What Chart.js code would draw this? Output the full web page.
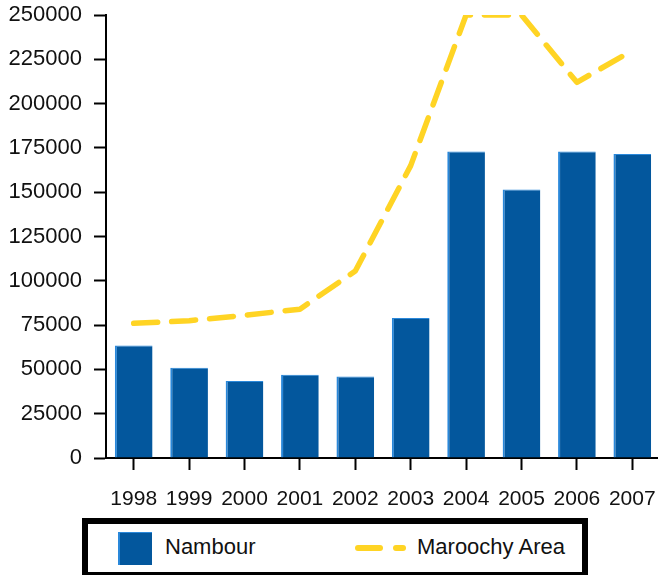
<!DOCTYPE html>
<html>
<head>
<meta charset="utf-8">
<script src="https://cdn.jsdelivr.net/npm/chart.js@4/dist/chart.umd.min.js"></script>
<style>
  html, body { margin: 0; padding: 0; background: #fff; overflow: hidden; width: 658px; height: 575px; }
  #wrap { position: relative; width: 658px; height: 575px; overflow: hidden; }
  canvas { position: absolute; left: 0; top: 0; display: block; }
  .legend { position: absolute; left: 82px; top: 518px; width: 506px; height: 60px; border: 6px solid #000; box-sizing: border-box; background: #fff; }
  .lg { position: absolute; font-family: "Liberation Sans", Arial, sans-serif; font-size: 22px; line-height: 26px; color: #111; white-space: nowrap; }
  .sq { position: absolute; box-sizing: border-box; }
  .dash { position: absolute; height: 6px; border-radius: 3px; }
</style>
</head>
<body>
<div id="wrap">
  <canvas id="c" width="660" height="575"></canvas>
  <div class="legend"></div>
  <div class="sq" id="lgBox" style="left:118px;top:532px;width:34px;height:33px;"></div>
  <div class="lg" id="lgName0" style="left:165px;top:534px;"></div>
  <div class="dash" id="d1" style="left:355px;top:545px;width:28px;"></div>
  <div class="dash" id="d2" style="left:393px;top:545px;width:13px;"></div>
  <div class="lg" id="lgName1" style="left:417px;top:534px;"></div>
</div>
<script>
const years = ['1998', '1999', '2000', '2001', '2002', '2003', '2004', '2005', '2006', '2007'];
const nambour = [63500, 51000, 43500, 47000, 46000, 79000, 173000, 151500, 173000, 171500];
const maroochy = [76000, 77500, 80500, 84000, 105500, 165000, 250000, 250000, 212000, 230000];
const yTickLabels = ['0', '25000', '50000', '75000', '100000', '125000', '150000', '175000', '200000', '225000', '250000'];
const seriesNames = ['Nambour', 'Maroochy Area'];

const barColor = '#03579d';
const barEdge = '#2a88da';
const lineColor = '#ffd424';

document.getElementById('lgBox').style.background = barColor;
document.getElementById('lgBox').style.borderLeft = '2px solid ' + barEdge;
document.getElementById('lgBox').style.borderTop = '1px solid ' + barEdge;
document.getElementById('lgName0').textContent = seriesNames[0];
document.getElementById('lgName1').textContent = seriesNames[1];
document.getElementById('d1').style.background = lineColor;
document.getElementById('d2').style.background = lineColor;

Chart.defaults.font.family = '"Liberation Sans", Arial, sans-serif';
Chart.defaults.color = '#111';

new Chart(document.getElementById('c'), {
  data: {
    labels: years,
    datasets: [
      {
        type: 'line',
        label: seriesNames[1],
        data: maroochy,
        borderColor: lineColor,
        borderWidth: 5.5,
        borderDash: [24, 14],
        borderCapStyle: 'round',
        borderJoinStyle: 'round',
        pointRadius: 0,
        fill: false,
        tension: 0,
        order: 0
      },
      {
        type: 'bar',
        label: seriesNames[0],
        data: nambour,
        backgroundColor: barColor,
        borderColor: barEdge,
        borderWidth: { left: 2, top: 1, right: 0, bottom: 0 },
        borderSkipped: false,
        categoryPercentage: 1,
        barPercentage: 0.68,
        order: 1
      }
    ]
  },
  options: {
    responsive: false,
    animation: false,
    devicePixelRatio: 1,
    layout: { padding: { top: 15, right: 0, bottom: 0, left: 0 } },
    plugins: { legend: { display: false }, tooltip: { enabled: false } },
    scales: {
      x: {
        type: 'category',
        offset: true,
        grid: { offset: false, drawOnChartArea: false, drawTicks: true, tickLength: 12, tickWidth: 2, tickColor: '#000' },
        border: { display: true, color: '#000', width: 2 },
        ticks: { font: { size: 21 }, padding: 17, maxRotation: 0, autoSkip: false, color: '#111' },
        afterFit: (s) => { s.height = 117; s.paddingLeft = 0; s.paddingRight = 0; }
      },
      y: {
        min: 0,
        max: 250000,
        grid: { drawOnChartArea: false, drawTicks: true, tickLength: 12, tickWidth: 2, tickColor: '#000' },
        border: { display: true, color: '#000', width: 2 },
        ticks: {
          stepSize: 25000,
          font: { size: 22 },
          padding: 12,
          color: '#111',
          callback: (v, i) => yTickLabels[i]
        },
        afterFit: (s) => { s.width = 106; s.paddingTop = 0; s.paddingBottom = 0; }
      }
    }
  }
});
</script>
</body>
</html>
